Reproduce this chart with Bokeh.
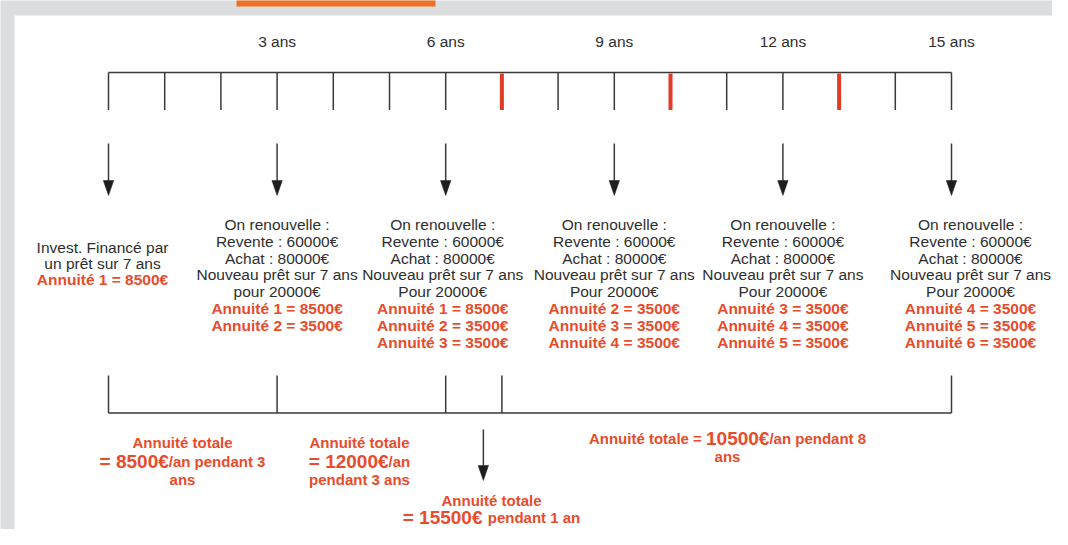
from bokeh.plotting import figure
from bokeh.models import Range1d, ColumnDataSource
from bokeh.core.properties import value
from bokeh.embed import file_html
from bokeh.resources import INLINE

# ---------------- data ----------------
tick_years = list(range(16))
red_tick_years = [7, 10, 13]
label_years = [3, 6, 9, 12, 15]
year_labels = ["3 ans", "6 ans", "9 ans", "12 ans", "15 ans"]
arrow_years = [0, 3, 6, 9, 12, 15]

block_years = [0, 3, 6, 9, 12, 15]
block_black = [
    ["Invest. Financé par", "un prêt sur 7 ans"],
    ["On renouvelle :", "Revente : 60000€", "Achat : 80000€", "Nouveau prêt sur 7 ans", "pour 20000€"],
    ["On renouvelle :", "Revente : 60000€", "Achat : 80000€", "Nouveau prêt sur 7 ans", "Pour 20000€"],
    ["On renouvelle :", "Revente : 60000€", "Achat : 80000€", "Nouveau prêt sur 7 ans", "Pour 20000€"],
    ["On renouvelle :", "Revente : 60000€", "Achat : 80000€", "Nouveau prêt sur 7 ans", "Pour 20000€"],
    ["On renouvelle :", "Revente : 60000€", "Achat : 80000€", "Nouveau prêt sur 7 ans", "Pour 20000€"],
]
block_red = [
    ["Annuité 1 = 8500€"],
    ["Annuité 1 = 8500€", "Annuité 2 = 3500€"],
    ["Annuité 1 = 8500€", "Annuité 2 = 3500€", "Annuité 3 = 3500€"],
    ["Annuité 2 = 3500€", "Annuité 3 = 3500€", "Annuité 4 = 3500€"],
    ["Annuité 3 = 3500€", "Annuité 4 = 3500€", "Annuité 5 = 3500€"],
    ["Annuité 4 = 3500€", "Annuité 5 = 3500€", "Annuité 6 = 3500€"],
]

bracket_years = [0, 3, 6, 7, 15]
summary_arrow_year = 6.67

# summary texts: (center px, [(row y, [(text, is_big), ...]), ...])
summaries = [
    (182, [(442, [("Annuité totale", False)]),
           (461, [("= 8500€", True), ("/an pendant 3", False)]),
           (479, [("ans", False)])]),
    (359, [(442, [("Annuité totale", False)]),
           (461, [("= 12000€", True), ("/an", False)]),
           (479, [("pendant 3 ans", False)])]),
    (491, [(500, [("Annuité totale", False)]),
           (517, [("= 15500€ ", True), ("pendant 1 an", False)])]),
    (727, [(438, [("Annuité totale = ", False), ("10500€", True), ("/an pendant 8", False)]),
           (456, [("ans", False)])]),
]

# ---------------- layout ----------------
PPY = 56.2
X0 = 108.0
def xd(px):
    return (px - X0) / PPY

GREY = "#dcdddf"
DARK = "#3a3a3a"
TXT = "#2e2e2e"
RED = "#e84c2c"
REDTICK = "#e23b26"
FONT = "Liberation Sans"

p = figure(width=1052, height=529, x_range=Range1d(xd(0), xd(1052)),
           y_range=Range1d(529, 0), output_backend="svg", toolbar_location=None,
           min_border=0, x_axis_location=None, y_axis_location=None)
p.grid.visible = False
p.outline_line_color = None
p.background_fill_color = GREY
p.border_fill_color = GREY

p.quad(left=xd(14), right=xd(1080), top=15, bottom=560, fill_color="white", line_color=None)
p.quad(left=xd(236), right=xd(435), top=-5, bottom=6, fill_color="#f07022", line_color=None)

# timeline
p.segment(x0=min(tick_years), x1=max(tick_years), y0=72, y1=72, line_color=DARK, line_width=1.6)
black_ticks = [t for t in tick_years if t not in red_tick_years]
p.segment(x0=black_ticks, x1=black_ticks, y0=[72] * len(black_ticks), y1=[109.5] * len(black_ticks),
          line_color=DARK, line_width=1.5)
p.segment(x0=red_tick_years, x1=red_tick_years, y0=[73] * 3, y1=[109.5] * 3,
          line_color=REDTICK, line_width=4)

p.text(x=label_years, y=[41] * len(label_years), text=year_labels, text_align="center",
       text_baseline="middle", text_font=value(FONT), text_font_size="15.5px", text_color=TXT)

# arrows
def arrows(xs, y0, y1, head=15, half=5.2):
    p.segment(x0=xs, x1=xs, y0=[y0] * len(xs), y1=[y1 - head + 1] * len(xs), line_color=DARK, line_width=1.5)
    p.patches(xs=[[x - half / PPY, x + half / PPY, x] for x in xs],
              ys=[[y1 - head, y1 - head, y1] for _ in xs], fill_color="#1e1e1e", line_color="#1e1e1e", line_width=0.5)

arrows(arrow_years, 143, 195)
arrows([summary_arrow_year], 429, 480)

# text blocks
block_dx = [-6, 0, -3, 0, 0, 19]
row0, dy = 224.0, 16.8
bx, by, bt, rx, ry, rt = [], [], [], [], [], []
for i, yr in enumerate(block_years):
    cx = yr + block_dx[i] / PPY
    lines = block_black[i]
    if i == 0:
        ys0, sp = 246.7, 15.9
    else:
        ys0, sp = row0, dy
    for j, t in enumerate(lines):
        bx.append(cx); by.append(ys0 + j * sp); bt.append(t)
    for k, t in enumerate(block_red[i]):
        rx.append(cx); ry.append(ys0 + (len(lines) + k) * sp); rt.append(t)

p.text(x=bx, y=by, text=bt, text_align="center", text_baseline="middle",
       text_font=value(FONT), text_font_size="15.5px", text_color=TXT)
p.text(x=rx, y=ry, text=rt, text_align="center", text_baseline="middle",
       text_font=value(FONT), text_font_size="15.5px", text_font_style="bold", text_color=RED)

# bottom bracket
p.segment(x0=min(bracket_years), x1=max(bracket_years), y0=412.5, y1=412.5, line_color=DARK, line_width=1.6)
p.segment(x0=bracket_years, x1=bracket_years, y0=[375] * len(bracket_years), y1=[412.5] * len(bracket_years),
          line_color=DARK, line_width=1.5)

# summary texts with mixed sizes
SMALL, BIG = 15.0, 19.0
W = {'A': .722, 'n': .611, 'u': .611, 'i': .278, 't': .333, 'é': .556, ' ': .278, 'o': .611,
     'a': .556, 'l': .278, 'e': .556, '=': .584, '/': .278, 'p': .611, 'd': .611, '€': .556, 's': .556}
def width(s, size):
    return sum(W.get(c, .556) for c in s) * size

src = {False: dict(x=[], y=[], text=[]), True: dict(x=[], y=[], text=[])}
for cxp, rows in summaries:
    for yy, pieces in rows:
        total = sum(width(t, BIG if b else SMALL) for t, b in pieces)
        xpos = cxp - total / 2
        for t, b in pieces:
            src[b]["x"].append(xd(xpos)); src[b]["y"].append(yy); src[b]["text"].append(t.rstrip())
            xpos += width(t, BIG if b else SMALL)

p.text(x="x", y="y", text="text", source=ColumnDataSource(src[False]), text_align="left",
       text_baseline="middle", text_font=value(FONT), text_font_size="15px",
       text_font_style="bold", text_color=RED)
p.text(x="x", y="y", text="text", source=ColumnDataSource(src[True]), text_align="left",
       text_baseline="middle", text_font=value(FONT), text_font_size="19px",
       text_font_style="bold", text_color=RED)

open("out.html", "w").write(file_html(p, INLINE))
